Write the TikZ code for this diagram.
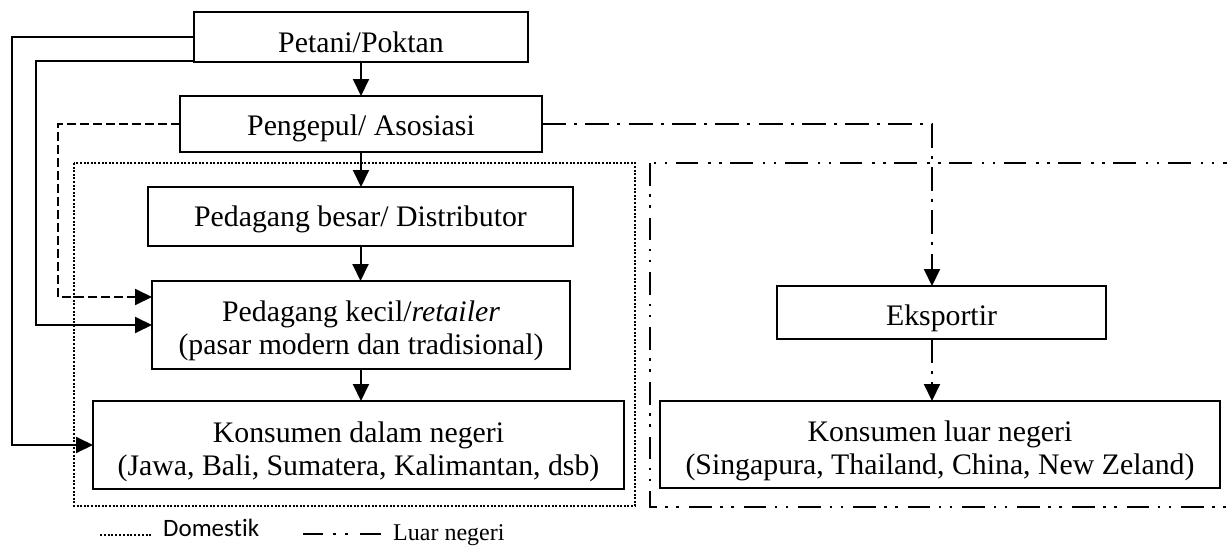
\documentclass[tikz,border=0pt]{standalone}
\usepackage{fontspec}
\setmainfont{Liberation Serif}
\newfontfamily\legendfont[Ligatures=NoCommon]{Carlito}
\usetikzlibrary{arrows.meta}
\begin{document}
\begin{tikzpicture}[x=1pt,y=-1pt,
  box/.style={draw, line width=1.8pt, inner sep=0pt, outer sep=0pt, rectangle},
  lbl/.style={anchor=base, inner sep=0pt, font=\fontsize{29.8}{30}\selectfont},
  arr/.style={line width=2pt, -{Triangle[length=17pt,width=16pt]}},
  dashedarr/.style={arr, dash pattern=on 9pt off 4pt},
  dasharr/.style={arr, dash pattern=on 24pt off 8pt on 3pt off 8.3pt},
  domestic/.style={line width=2.2pt, dash pattern=on 2pt off 1.6pt},
  foreign/.style={line width=2.3pt, dash pattern=on 22.7pt off 8.5pt on 2.5pt off 8.5pt on 2.5pt off 10pt},
  legendtxt/.style={anchor=base west, inner sep=0pt, font=\fontsize{24}{24}\selectfont}
]
\useasboundingbox (0,0) rectangle (1227,546);

% region frames
\draw[domestic] (74,163) rectangle (635,506);
\draw[foreign] (650,163) rectangle (1260,507);

% boxes
\node[box, minimum width=334pt, minimum height=50pt] (petani) at (361,37) {};
\node[box, minimum width=362pt, minimum height=56pt] (pengepul) at (361,124) {};
\node[box, minimum width=425pt, minimum height=59pt] (besar) at (360.5,216.5) {};
\node[box, minimum width=418pt, minimum height=88pt] (kecil) at (361,325) {};
\node[box, minimum width=531pt, minimum height=88pt] (kdalam) at (358.5,445) {};
\node[box, minimum width=329pt, minimum height=53pt] (eksportir) at (941.5,312.5) {};
\node[box, minimum width=560pt, minimum height=87pt] (kluar) at (940,444.5) {};

% texts
\node[lbl] (petani-t) at (361,52) {Petani/Poktan};
\node[lbl] (pengepul-t) at (361,135) {Pengepul/ Asosiasi};
\node[lbl] (besar-t) at (360.5,226) {Pedagang besar/ Distributor};
\node[lbl] (kecil-t1) at (361,321) {Pedagang kecil/\textit{retailer}};
\node[lbl] (kecil-t2) at (361,354) {(pasar modern dan tradisional)};
\node[lbl] (kdalam-t1) at (358.5,442) {Konsumen dalam negeri};
\node[lbl] (kdalam-t2) at (358.5,475) {(Jawa, Bali, Sumatera, Kalimantan, dsb)};
\node[lbl] (eksportir-t) at (941.5,325) {Eksportir};
\node[lbl] (kluar-t1) at (940,441.5) {Konsumen luar negeri};
\node[lbl] (kluar-t2) at (940,474) {(Singapura, Thailand, China, New Zeland)};

% vertical main chain
\draw[arr] (petani.south) -- (petani.south |- pengepul.north);
\draw[arr] (pengepul.south) -- (pengepul.south |- besar.north);
\draw[arr] (besar.south) -- (besar.south |- kecil.north);
\draw[arr] (kecil.south) -- (kecil.south |- kdalam.north);

% left bypasses
\draw[arr] (petani.west) -- ++(-182,0) |- (kdalam.west);
\draw[arr] ([yshift=1pt]petani.south west) -- ++(-158,0) |- (kecil.west);
\draw[dashedarr] (pengepul.west) -- ++(-122,0) |- ([yshift=28pt]kecil.west);

% export branch
\draw[dasharr] (pengepul.east) -| ([xshift=-9.5pt]eksportir.north);
\draw[dasharr] ([xshift=-9.5pt]eksportir.south) -- ([xshift=-9.5pt]eksportir.south |- kluar.north);

% legend
\coordinate (ld1) at (100,535);
\coordinate (ld2) at (153,535);
\draw[line width=2pt, dash pattern=on 2pt off 1.8pt] (ld1) -- (ld2);
\node[legendtxt, font=\legendfont\fontsize{25}{25}\selectfont] (leg-dom) at (163,536.5) {Domestik};
\coordinate (lf1) at (303,534);
\coordinate (lf2) at (381,534);
\draw[line width=2.3pt, dash pattern=on 20pt off 10pt on 2.5pt off 9.5pt on 2.5pt off 12pt on 21.5pt off 10pt] (lf1) -- (lf2);
\node[legendtxt] (leg-luar) at (393,540) {Luar negeri};
\end{tikzpicture}
\end{document}
